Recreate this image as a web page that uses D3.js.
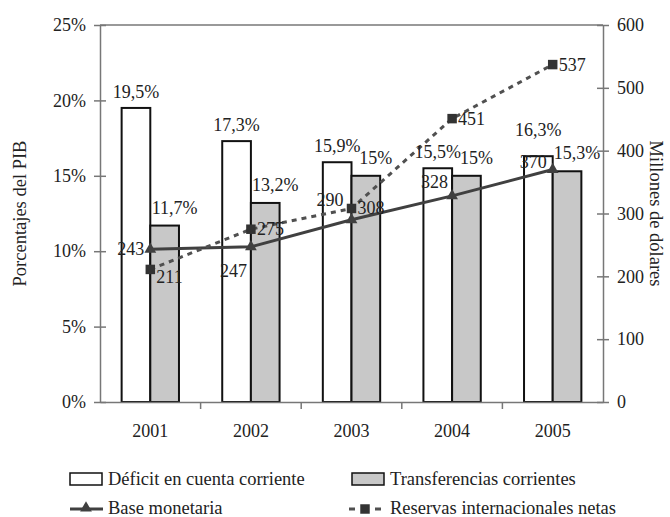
<!DOCTYPE html>
<html>
<head>
<meta charset="utf-8">
<script src="https://cdn.jsdelivr.net/npm/d3@7"></script>
<style>
  body { margin: 0; background: #fff; }
  text { font-family: "Liberation Serif", "Times New Roman", serif; fill: #222; }
</style>
</head>
<body>
<div id="chart"></div>
<script>
var svgWidth = 670;
var svgHeight = 517;

var margin = { top: 25, right: 67, bottom: 115, left: 100 };
var chartWidth = svgWidth - margin.left - margin.right;
var chartHeight = svgHeight - margin.top - margin.bottom;

// data
var years = ["2001", "2002", "2003", "2004", "2005"];
var deficit = [19.5, 17.3, 15.9, 15.5, 16.3];
var transferencias = [11.7, 13.2, 15, 15, 15.3];
var baseMonetaria = [243, 247, 290, 328, 370];
var reservas = [211, 275, 308, 451, 537];
var leftTicks = [0, 5, 10, 15, 20, 25];
var rightTicks = [0, 100, 200, 300, 400, 500, 600];

// label nudges (layout only)
var deficitLabelDy = [-10, -10, -10, -10, -20];
var baseLabelPos = [[-6, 6], [-4, 30], [-8, -14], [-4, -8], [-6, -2]];

var fmt = function(v) { return String(v).replace(".", ",") + "%"; };

var svg = d3.select("#chart").append("svg")
  .attr("width", svgWidth)
  .attr("height", svgHeight);

var chartGroup = svg.append("g")
  .attr("transform", `translate(${margin.left}, ${margin.top})`);

var x = d3.scaleBand().domain(years).range([0, chartWidth]);
var barW = x.bandwidth() * 0.285;
var yLeft = d3.scaleLinear().domain([0, 25]).range([chartHeight, 0]);
var yRight = d3.scaleLinear().domain([0, 600]).range([chartHeight, 0]);

// frame top line
chartGroup.append("line")
  .attr("x1", 0).attr("x2", chartWidth).attr("y1", 0).attr("y2", 0)
  .attr("stroke", "#777").attr("stroke-width", 1.5);

// bars
chartGroup.selectAll(".deficit")
  .data(deficit)
  .enter()
  .append("rect")
  .attr("x", (d, i) => x(years[i]) + x.bandwidth() / 2 - barW)
  .attr("y", d => yLeft(d))
  .attr("width", barW)
  .attr("height", d => chartHeight - yLeft(d))
  .attr("fill", "#fff")
  .attr("stroke", "#111")
  .attr("stroke-width", 2);

chartGroup.selectAll(".transf")
  .data(transferencias)
  .enter()
  .append("rect")
  .attr("x", (d, i) => x(years[i]) + x.bandwidth() / 2)
  .attr("y", d => yLeft(d))
  .attr("width", barW)
  .attr("height", d => chartHeight - yLeft(d))
  .attr("fill", "#c8c8c8")
  .attr("stroke", "#111")
  .attr("stroke-width", 2);

// axes
var leftAxis = d3.axisLeft(yLeft).tickValues(leftTicks).tickFormat(d => d + "%").tickSizeInner(6).tickSizeOuter(0).tickPadding(8);
var rightAxis = d3.axisRight(yRight).tickValues(rightTicks).tickSizeInner(6).tickSizeOuter(0).tickPadding(8);
var bottomAxis = d3.axisBottom(x).tickSize(0).tickPadding(22);

var gl = chartGroup.append("g").call(leftAxis);
gl.selectAll(".tick line").attr("x1", 6).attr("x2", -6);
var gr = chartGroup.append("g").attr("transform", `translate(${chartWidth},0)`).call(rightAxis);
gr.selectAll(".tick line").attr("x1", -6).attr("x2", 6);
var gb = chartGroup.append("g").attr("transform", `translate(0,${chartHeight})`).call(bottomAxis);

// category separators on bottom axis
gb.selectAll(".sep")
  .data(years.slice(1))
  .enter()
  .append("line")
  .attr("x1", d => x(d)).attr("x2", d => x(d))
  .attr("y1", 0).attr("y2", 7)
  .attr("stroke", "#777").attr("stroke-width", 1.5);

[gl, gr, gb].forEach(function(g) {
  g.selectAll(".domain").attr("stroke", "#777").attr("stroke-width", 1.5);
  g.selectAll(".tick line").attr("stroke", "#777").attr("stroke-width", 1.5);
  g.selectAll("text").attr("font-size", 18).attr("fill", "#222");
});

// lines
var cx = i => x(years[i]) + x.bandwidth() / 2;

var lineGen = d3.line().x((d, i) => cx(i)).y(d => yRight(d));
chartGroup.append("path")
  .datum(baseMonetaria)
  .attr("d", lineGen)
  .attr("fill", "none")
  .attr("stroke", "#404040")
  .attr("stroke-width", 3);

chartGroup.append("path")
  .datum(reservas)
  .attr("d", lineGen)
  .attr("fill", "none")
  .attr("stroke", "#505050")
  .attr("stroke-width", 3)
  .attr("stroke-dasharray", "5,5");

var tri = d3.symbol().type(d3.symbolTriangle).size(60);
var sq = d3.symbol().type(d3.symbolSquare).size(90);

chartGroup.selectAll(".tri")
  .data(baseMonetaria)
  .enter()
  .append("path")
  .attr("d", tri)
  .attr("transform", (d, i) => `translate(${cx(i)},${yRight(d)})`)
  .attr("fill", "#404040");

chartGroup.selectAll(".sq")
  .data(reservas)
  .enter()
  .append("path")
  .attr("d", sq)
  .attr("transform", (d, i) => `translate(${cx(i)},${yRight(d)})`)
  .attr("fill", "#333");

// labels
chartGroup.selectAll(".dlab")
  .data(deficit)
  .enter()
  .append("text")
  .attr("x", (d, i) => cx(i) - barW / 2)
  .attr("y", (d, i) => yLeft(d) + deficitLabelDy[i])
  .attr("text-anchor", "middle")
  .attr("font-size", 18)
  .text(d => fmt(d));

chartGroup.selectAll(".tlab")
  .data(transferencias)
  .enter()
  .append("text")
  .attr("x", (d, i) => cx(i) + barW / 2 + 10)
  .attr("y", d => yLeft(d) - 12)
  .attr("text-anchor", "middle")
  .attr("font-size", 18)
  .text(d => fmt(d));

chartGroup.selectAll(".blab")
  .data(baseMonetaria)
  .enter()
  .append("text")
  .attr("x", (d, i) => cx(i) + baseLabelPos[i][0])
  .attr("y", (d, i) => yRight(d) + baseLabelPos[i][1])
  .attr("text-anchor", "end")
  .attr("font-size", 18)
  .text(d => d);

chartGroup.selectAll(".rlab")
  .data(reservas)
  .enter()
  .append("text")
  .attr("x", (d, i) => cx(i) + 6)
  .attr("y", (d, i) => yRight(d) + (i === 0 ? 14 : 6))
  .attr("font-size", 18)
  .text(d => d);

// axis titles
svg.append("text")
  .attr("transform", `translate(26, ${margin.top + chartHeight / 2}) rotate(-90)`)
  .attr("text-anchor", "middle")
  .attr("font-size", 18.5)
  .text("Porcentajes del PIB");

svg.append("text")
  .attr("transform", `translate(650, ${margin.top + chartHeight / 2}) rotate(90)`)
  .attr("text-anchor", "middle")
  .attr("font-size", 18.5)
  .text("Millones de dólares");

// legend
var legend = svg.append("g");
legend.append("rect").attr("x", 70).attr("y", 473).attr("width", 32).attr("height", 12)
  .attr("fill", "#fff").attr("stroke", "#111").attr("stroke-width", 1.5);
legend.append("text").attr("x", 108).attr("y", 485).attr("font-size", 18.5).text("Déficit en cuenta corriente");

legend.append("rect").attr("x", 352).attr("y", 473).attr("width", 32).attr("height", 12)
  .attr("fill", "#c8c8c8").attr("stroke", "#111").attr("stroke-width", 1.5);
legend.append("text").attr("x", 390).attr("y", 485).attr("font-size", 18.5).text("Transferencias corrientes");

legend.append("line").attr("x1", 70).attr("x2", 103).attr("y1", 509).attr("y2", 509)
  .attr("stroke", "#404040").attr("stroke-width", 3);
legend.append("path").attr("d", tri).attr("transform", "translate(86,508)").attr("fill", "#404040");
legend.append("text").attr("x", 108).attr("y", 514).attr("font-size", 18.5).text("Base monetaria");

legend.append("line").attr("x1", 349).attr("x2", 382).attr("y1", 509).attr("y2", 509)
  .attr("stroke", "#505050").attr("stroke-width", 3).attr("stroke-dasharray", "6,7");
legend.append("path").attr("d", sq).attr("transform", "translate(365,509)").attr("fill", "#333");
legend.append("text").attr("x", 390).attr("y", 514).attr("font-size", 18.5).text("Reservas internacionales netas");
</script>
</body>
</html>
